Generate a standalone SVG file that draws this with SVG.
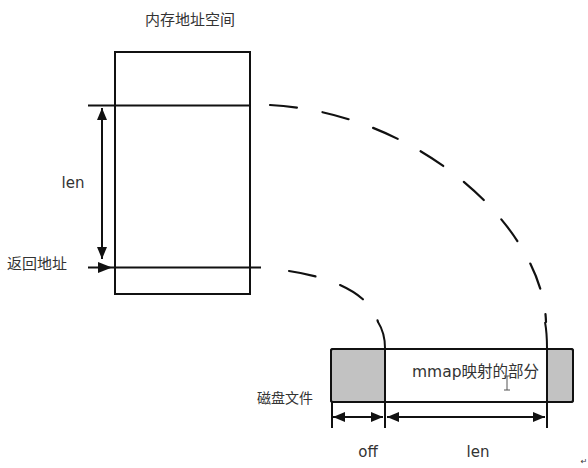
<svg xmlns="http://www.w3.org/2000/svg" width="588" height="468" viewBox="0 0 588 468">
<style>
  text { font-family: "DejaVu Sans", "Noto Sans CJK SC", sans-serif; fill: #333; }
  .ln { stroke: #111; stroke-width: 2; fill: none; }
  .box { stroke: #111; stroke-width: 2; fill: #fff; }
  .gray { fill: #c2c2c2; stroke: none; }
  .dash { stroke: #111; stroke-width: 2.2; fill: none; stroke-dasharray: 27 26; stroke-linecap: round; }
</style>
<defs>
  <marker id="ah" viewBox="0 0 12 10" refX="12" refY="5" markerWidth="12" markerHeight="10" markerUnits="userSpaceOnUse" orient="auto-start-reverse">
    <path d="M0 0 L12 5 L0 10 Z" fill="#111"/>
  </marker>
</defs>
<rect width="588" height="468" fill="#fff"/>

<g id="memory">
  <text x="190" y="25" font-size="15" text-anchor="middle">内存地址空间</text>
  <rect class="box" x="115" y="52" width="135" height="242"/>
  <line class="ln" x1="88" y1="105.5" x2="250" y2="105.5"/>
  <line class="ln" x1="88" y1="267.5" x2="261" y2="267.5"/>
</g>

<g id="len-arrow">
  <line class="ln" x1="102" y1="108" x2="102" y2="259" marker-start="url(#ah)" marker-end="url(#ah)"/>
  <path d="M98 262 L112 267.5 L98 273 Z" fill="#111"/>
  <text x="73" y="188" font-size="15" text-anchor="middle">len</text>
</g>

<g id="return-addr">
  <text x="7" y="269" font-size="15">返回地址</text>
</g>

<g id="disk">
  <rect class="box" x="331" y="349" width="242" height="53" rx="2"/>
  <rect class="gray" x="332" y="350" width="52" height="51"/>
  <rect class="gray" x="547" y="350" width="25" height="51"/>
  <rect x="331" y="349" width="242" height="53" rx="2" fill="none" stroke="#111" stroke-width="2"/>
  <text x="313" y="403" font-size="14" text-anchor="end">磁盘文件</text>
  <text x="412" y="377" font-size="15.5">mmap映射的部分</text>
  <path d="M504 376 L510 376 M507 376 L507 390 M504 390 L510 390" stroke="#555" stroke-width="1" fill="none"/>
</g>

<g id="connectors">
  <path class="dash" d="M270 105 C420 113 543 228 546 322"/>
  <path class="dash" d="M289 271 C330 277 370 293 378 322"/>
  <path class="ln" d="M378 322 Q385 333 385 348 L385 428"/>
  <path class="ln" d="M545 322 Q547 333 547 348 L547 428"/>
  <line class="ln" x1="332" y1="402" x2="332" y2="428"/>
  <line class="ln" x1="333" y1="417" x2="383" y2="417" marker-start="url(#ah)" marker-end="url(#ah)"/>
  <line class="ln" x1="387" y1="417" x2="545" y2="417" marker-start="url(#ah)" marker-end="url(#ah)"/>
</g>

<g id="labels-bottom">
  <text x="368" y="457" font-size="15" text-anchor="middle">off</text>
  <text x="478" y="457" font-size="15" text-anchor="middle">len</text>
  <text x="584" y="464" font-size="8" text-anchor="middle" fill="#888">↵</text>
</g>
</svg>
